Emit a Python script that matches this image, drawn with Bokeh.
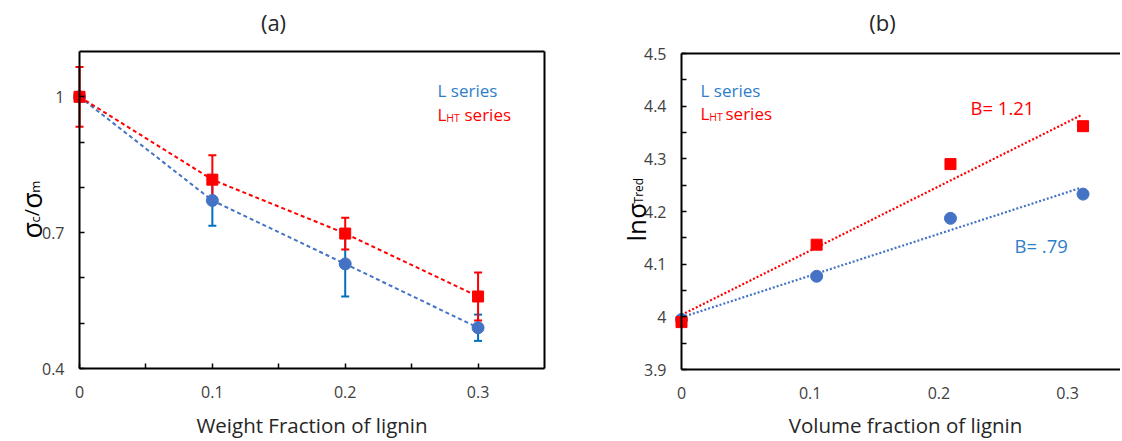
import math
import numpy as np
from bokeh.plotting import figure
from bokeh.layouts import row
from bokeh.models import (Range1d, FixedTicker, NumeralTickFormatter, LinearAxis, Label,
                          Whisker, ColumnDataSource, TeeHead)
from bokeh.embed import file_html
from bokeh.resources import INLINE

# ---------------- data ----------------
wt_fraction = [0.0, 0.1, 0.2, 0.3]
L_strength_ratio = [1.0, 0.771, 0.631, 0.490]
L_strength_err = [0.0, 0.056, 0.072, 0.029]
LHT_strength_ratio = [1.0, 0.817, 0.698, 0.559]
LHT_strength_err = [0.066, 0.054, 0.035, 0.053]

vol_fraction = [0.0, 0.105, 0.209, 0.312]
L_ln_sigma = [3.995, 4.077, 4.187, 4.233]
LHT_ln_sigma = [3.990, 4.137, 4.290, 4.362]
trend_x = [0.0, 0.31]
B_L_text = "B= .79"
B_LHT_text = "B= 1.21"

xticks_a = [0.0, 0.1, 0.2, 0.3]
xminor_a = [0.05, 0.15, 0.25]
yticks_a = [0.4, 0.7, 1.0]
yminor_a = [0.5, 0.6, 0.8, 0.9]
xticks_b = [0.0, 0.1, 0.2, 0.3]
yticks_b = [3.9, 4.0, 4.1, 4.2, 4.3, 4.4, 4.5]
yminor_b = [3.95, 4.05, 4.15, 4.25, 4.35, 4.45]

# ---------------- style ----------------
FONT = "Open Sans"
RED = "#FF0000"
BLUE_MK = "#4472C4"
BLUE_ERR = "#0070C0"
BLUE_TXT = "#2F7EC9"
TICK_C = "#404040"
TITLE_C = "#262626"
H = 441


def add_label(p, ox, ax, ay, text, size, color, angle=0.0, align="left", baseline="alphabetic"):
    # ax, ay: page pixels (top-left origin); the frame covers the whole figure
    p.add_layout(Label(x=ax - ox, y=H - ay, x_units="screen", y_units="screen", text=text,
                       text_font=FONT, text_font_size=f"{size}px", text_color=color,
                       angle=angle, text_align=align, text_baseline=baseline))


def rot_pieces(p, ox, x_base, y_start, pieces, color):
    y = y_start
    for text, size, dx, em in pieces:
        add_label(p, ox, x_base + dx, y, text, size, color, angle=math.pi / 2)
        y -= size * em


def style_axis(ax, lw=2):
    ax.axis_line_width = lw
    ax.axis_line_color = "black"
    ax.major_tick_in = 5
    ax.major_tick_out = 0
    ax.minor_tick_in = 5
    ax.minor_tick_out = 0
    ax.major_tick_line_width = 1.5
    ax.minor_tick_line_width = 1.5
    ax.major_tick_line_color = "black"
    ax.minor_tick_line_color = "black"
    ax.major_label_text_font = FONT
    ax.major_label_text_font_size = "16px"
    ax.major_label_text_color = TICK_C


def border_axis(loc, bounds):
    return LinearAxis(ticker=FixedTicker(ticks=[]), major_label_text_font_size="0px",
                      axis_line_width=2, axis_line_color="black",
                      fixed_location=loc, bounds=bounds)


def new_fig(width, xr, yr):
    p = figure(width=width, height=H, output_backend="svg", toolbar_location=None,
               x_range=Range1d(*xr), y_range=Range1d(*yr), title=None,
               min_border_left=0, min_border_right=0, min_border_top=0, min_border_bottom=0)
    p.outline_line_color = None
    p.border_fill_color = "white"
    p.grid.visible = False
    return p


# ================= panel (a) =================
A_OX = 0
A_PX0, A_PX1 = 79, 544        # page x of x=0 and x=0.35
A_PY_TOP, A_PY_BOT = 51, 368  # page y of y=1.1 and y=0.4
xa0, xa1, ya0, ya1 = 0.0, 0.35, 0.4, 1.1
sxa = (A_PX1 - A_PX0) / (xa1 - xa0)
sya = (A_PY_BOT - A_PY_TOP) / (ya1 - ya0)
pa = new_fig(560, (xa0 - (A_PX0 - A_OX) / sxa, xa1 + (A_OX + 560 - A_PX1) / sxa),
             (ya0 - (H - A_PY_BOT) / sya, ya1 + A_PY_TOP / sya))

pa.xaxis.ticker = FixedTicker(ticks=xticks_a, minor_ticks=xminor_a)
pa.xaxis.formatter = NumeralTickFormatter(format="0.[0]")
pa.xaxis.fixed_location = ya0
pa.xaxis.bounds = (xa0, xa1)
pa.xaxis.major_label_standoff = 17
pa.yaxis.ticker = FixedTicker(ticks=yticks_a, minor_ticks=yminor_a)
pa.yaxis.formatter = NumeralTickFormatter(format="0.[0]")
pa.yaxis.fixed_location = xa0
pa.yaxis.bounds = (ya0, ya1)
pa.yaxis.major_label_standoff = 15
for ax in pa.xaxis + pa.yaxis:
    style_axis(ax)
pa.add_layout(border_axis(xa1, (ya0, ya1)), "right")
pa.add_layout(border_axis(ya1, (xa0, xa1)), "above")

src_La = ColumnDataSource(dict(x=wt_fraction, y=L_strength_ratio,
                               lo=[v - e for v, e in zip(L_strength_ratio, L_strength_err)],
                               hi=[v + e for v, e in zip(L_strength_ratio, L_strength_err)]))
src_Ha = ColumnDataSource(dict(x=wt_fraction, y=LHT_strength_ratio,
                               lo=[v - e for v, e in zip(LHT_strength_ratio, LHT_strength_err)],
                               hi=[v + e for v, e in zip(LHT_strength_ratio, LHT_strength_err)]))

wl = Whisker(base="x", upper="hi", lower="lo", source=src_La, line_color=BLUE_ERR, line_width=2,
             upper_head=TeeHead(size=8, line_color=BLUE_ERR, line_width=2),
             lower_head=TeeHead(size=8, line_color=BLUE_ERR, line_width=2), level="underlay")
wh = Whisker(base="x", upper="hi", lower="lo", source=src_Ha, line_color=RED, line_width=2,
             upper_head=TeeHead(size=8, line_color=RED, line_width=2),
             lower_head=TeeHead(size=8, line_color=RED, line_width=2), level="underlay")
pa.add_layout(wl)
pa.add_layout(wh)

pa.line("x", "y", source=src_La, line_color=BLUE_MK, line_width=2, line_dash="4 3")
pa.scatter("x", "y", source=src_La, marker="circle", size=12, color=BLUE_MK)
pa.line("x", "y", source=src_Ha, line_color=RED, line_width=2, line_dash="4 3")
pa.scatter("x", "y", source=src_Ha, marker="square", size=11, color=RED)

# texts (a)
add_label(pa, A_OX, 273, 21, "(a)", 22, TITLE_C, align="center", baseline="middle")
add_label(pa, A_OX, 311.5, 424, "Weight Fraction of lignin", 20.5, TITLE_C,
          align="center", baseline="middle")
add_label(pa, A_OX, 437, 90, "L series", 17, BLUE_TXT)
add_label(pa, A_OX, 437, 114, "L", 17, RED)
add_label(pa, A_OX, 445.8, 117, "HT", 10.5, RED)
add_label(pa, A_OX, 464, 114, "series", 17, RED)
rot_pieces(pa, A_OX, 31, 238,
           [("σ", 27, 0, 0.59), ("c", 13, 3, 0.49), ("/", 20, 0, 0.37),
            ("σ", 27, 0, 0.59), ("m", 13, 3, 0.93)], "black")

# ================= panel (b) =================
B_OX = 560
B_W = 560
B_PX0 = 681                   # page x of x=0
B_PX_PER = 1287.0             # pixels per unit of volume fraction
B_PY_TOP, B_PY_BOT = 53, 369  # page y of 4.5 and 3.9
xb0 = 0.0
yb0, yb1 = 3.9, 4.5
syb = (B_PY_BOT - B_PY_TOP) / (yb1 - yb0)
xb_end = xb0 + (B_OX + B_W - B_PX0) / B_PX_PER
pb = new_fig(B_W, (xb0 - (B_PX0 - B_OX) / B_PX_PER, xb_end),
             (yb0 - (H - B_PY_BOT) / syb, yb1 + B_PY_TOP / syb))

pb.xaxis.ticker = FixedTicker(ticks=xticks_b)
pb.xaxis.formatter = NumeralTickFormatter(format="0.[0]")
pb.xaxis.fixed_location = yb0
pb.xaxis.bounds = (xb0, xb_end)
pb.xaxis.major_label_standoff = 17
pb.yaxis.ticker = FixedTicker(ticks=yticks_b, minor_ticks=yminor_b)
pb.yaxis.formatter = NumeralTickFormatter(format="0.[0]")
pb.yaxis.fixed_location = xb0
pb.yaxis.bounds = (yb0, yb1)
pb.yaxis.major_label_standoff = 15
for ax in pb.xaxis + pb.yaxis:
    style_axis(ax)
pb.xaxis.major_tick_in = 0
pb.xaxis.minor_tick_in = 0
pb.add_layout(border_axis(yb1, (xb0, xb_end)), "above")

# linear trend lines fitted to the plotted points
cL = np.polyfit(vol_fraction, L_ln_sigma, 1)
cH = np.polyfit(vol_fraction, LHT_ln_sigma, 1)
pb.line(trend_x, list(np.polyval(cL, trend_x)), line_color=BLUE_MK, line_width=2.2, line_dash="2 2")
pb.line(trend_x, list(np.polyval(cH, trend_x)), line_color=RED, line_width=2.2, line_dash="2 2")
pb.scatter(vol_fraction, L_ln_sigma, marker="circle", size=12, color=BLUE_MK)
pb.scatter(vol_fraction, LHT_ln_sigma, marker="square", size=11, color=RED)

add_label(pb, B_OX, 882, 21, "(b)", 22, TITLE_C, align="center", baseline="middle")
add_label(pb, B_OX, 905, 424, "Volume fraction of lignin", 20.5, TITLE_C,
          align="center", baseline="middle")
add_label(pb, B_OX, 700, 89.5, "L series", 17, BLUE_TXT)
add_label(pb, B_OX, 700, 113, "L", 17, RED)
add_label(pb, B_OX, 708.8, 116, "HT", 10.5, RED)
add_label(pb, B_OX, 725, 113, "series", 17, RED)
add_label(pb, B_OX, 970, 107, B_LHT_text, 18.5, RED)
add_label(pb, B_OX, 1014, 244.5, B_L_text, 18.5, BLUE_TXT)
rot_pieces(pb, B_OX, 635, 241,
           [("ln", 26, 0, 0.873), ("σ", 26, 0, 0.59), ("Tred", 12, 3, 2.13)], "black")

layout = row(pa, pb)
open("out.html", "w").write(file_html(layout, INLINE))
